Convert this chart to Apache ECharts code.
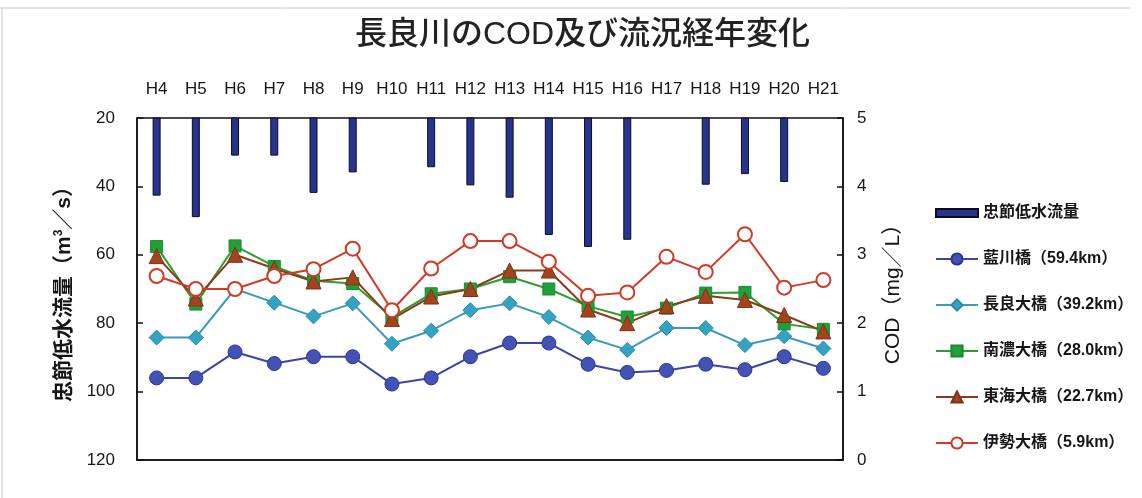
<!DOCTYPE html>
<html>
<head>
<meta charset="utf-8">
<script src="https://cdn.jsdelivr.net/npm/echarts@6/dist/echarts.min.js"></script>
<style>
  html, body { margin: 0; padding: 0; background: #fff; }
  #chart { width: 1142px; height: 498px; }
</style>
</head>
<body>
<div id="chart"></div>
<script>
// 年度（平成）
const years = ['H4','H5','H6','H7','H8','H9','H10','H11','H12','H13','H14','H15','H16','H17','H18','H19','H20','H21'];

// 忠節低水流量 (m3/s) — 欠測年は null
const flowChusetsu = [42.7, 49.0, 31.0, 31.0, 41.9, 35.9, null, 34.4, 39.7, 43.3, 54.2, 57.7, 55.6, null, 39.5, 36.4, 38.7, null];

// COD (mg/L) 各地点
const codAikawa   = [1.20, 1.20, 1.58, 1.41, 1.51, 1.51, 1.11, 1.20, 1.51, 1.71, 1.71, 1.40, 1.28, 1.31, 1.40, 1.32, 1.51, 1.34];
const codNagara   = [1.79, 1.79, 2.50, 2.30, 2.10, 2.29, 1.70, 1.89, 2.19, 2.29, 2.09, 1.79, 1.61, 1.93, 1.93, 1.68, 1.81, 1.63];
const codNanno    = [3.12, 2.28, 3.13, 2.83, 2.62, 2.58, 2.09, 2.43, 2.50, 2.68, 2.50, 2.25, 2.09, 2.22, 2.44, 2.45, 1.99, 1.91];
const codTokai    = [2.98, 2.36, 3.00, 2.80, 2.61, 2.67, 2.06, 2.39, 2.50, 2.77, 2.77, 2.20, 2.00, 2.25, 2.40, 2.34, 2.12, 1.88];
const codIse      = [2.69, 2.50, 2.50, 2.69, 2.79, 3.09, 2.19, 2.80, 3.20, 3.20, 2.90, 2.40, 2.45, 2.97, 2.75, 3.30, 2.52, 2.63];

// 左軸・右軸の目盛
const flowTicks = { min: 20, max: 120, step: 20 };
const codTicks  = { min: 0, max: 5, step: 1 };

const FONT = '"Liberation Sans", "Noto Sans CJK JP", sans-serif';
const INK = '#161616';

const chart = echarts.init(document.getElementById('chart'), null, { renderer: 'canvas' });

function lineSeries(name, data, color, symbol, size, fill, borderColor) {
  return {
    name: name,
    type: 'line',
    yAxisIndex: 1,
    data: data,
    symbol: symbol,
    symbolSize: size,
    z: 3,
    lineStyle: { color: color, width: 2 },
    itemStyle: { color: fill, borderColor: borderColor, borderWidth: fill === '#ffffff' ? 2 : 1 }
  };
}

const option = {
  backgroundColor: '#ffffff',
  animation: false,
  textStyle: { fontFamily: FONT },
  title: {
    text: '長良川のCOD及び流況経年変化',
    left: 355,
    top: 19,
    padding: 0,
    textStyle: { fontFamily: FONT, fontSize: 32, fontWeight: 500, color: '#222222' }
  },
  graphic: [
    { type: 'line', shape: { x1: 0, y1: 8, x2: 1130, y2: 8 }, style: { stroke: '#c8c8c8', lineWidth: 1 } },
    { type: 'line', shape: { x1: 2, y1: 8, x2: 2, y2: 498 }, style: { stroke: '#c8c8c8', lineWidth: 1 } }
  ],
  legend: {
    orient: 'vertical',
    left: 935,
    top: 205,
    padding: 0,
    itemWidth: 42,
    itemHeight: 14,
    itemGap: 30,
    textStyle: { fontFamily: FONT, fontSize: 16, fontWeight: 'bold', color: INK },
    data: [
      { name: '忠節低水流量', icon: 'path://M0,0L42,0L42,8L0,8Z' },
      '藍川橋（59.4km）',
      '長良大橋（39.2km）',
      '南濃大橋（28.0km）',
      '東海大橋（22.7km）',
      '伊勢大橋（5.9km）'
    ]
  },
  grid: {
    left: 137, right: 299, top: 118, bottom: 38,
    show: true, borderColor: '#111', borderWidth: 1.5, backgroundColor: 'transparent'
  },
  xAxis: {
    type: 'category',
    position: 'top',
    data: years,
    boundaryGap: true,
    axisLine: { show: true, lineStyle: { color: '#111', width: 1.5 } },
    axisTick: { show: false },
    axisLabel: { margin: 20, fontSize: 17, color: INK, fontFamily: FONT, interval: 0 }
  },
  yAxis: [
    {
      type: 'value',
      position: 'left',
      inverse: true,
      min: flowTicks.min, max: flowTicks.max, interval: flowTicks.step,
      splitLine: { show: false },
      axisLine: { show: true, lineStyle: { color: '#111', width: 1.5 } },
      axisTick: { show: true, inside: true, length: 6, lineStyle: { color: '#111', width: 1.5 } },
      axisLabel: { margin: 22, fontSize: 17, color: INK, fontFamily: FONT },
      name: '忠節低水流量（m{sup|3}／s）',
      nameLocation: 'middle',
      nameRotate: 90,
      nameGap: 62,
      nameTextStyle: {
        fontSize: 21, fontWeight: 'bold', color: INK, fontFamily: FONT,
        rich: { sup: { fontSize: 12, verticalAlign: 'top', padding: [0, 0, 10, 0], color: INK, fontFamily: FONT } }
      }
    },
    {
      type: 'value',
      position: 'right',
      min: codTicks.min, max: codTicks.max, interval: codTicks.step,
      splitLine: { show: false },
      axisLine: { show: true, lineStyle: { color: '#111', width: 1.5 } },
      axisTick: { show: true, inside: true, length: 6, lineStyle: { color: '#111', width: 1.5 } },
      axisLabel: { margin: 14, fontSize: 17, color: INK, fontFamily: FONT },
      name: 'COD（mg／L）',
      nameLocation: 'middle',
      nameRotate: 90,
      nameGap: 40,
      nameTextStyle: { fontSize: 21, color: INK, fontFamily: FONT }
    }
  ],
  series: [
    {
      name: '忠節低水流量',
      type: 'bar',
      yAxisIndex: 0,
      data: flowChusetsu,
      barWidth: 8,
      clip: true,
      z: 2,
      itemStyle: { color: '#28348c', borderColor: '#0b0b26', borderWidth: 1 }
    },
    lineSeries('藍川橋（59.4km）', codAikawa, '#3b46a0', 'circle', 14, '#4352b4', '#2b3590'),
    lineSeries('長良大橋（39.2km）', codNagara, '#3a9bb8', 'diamond', 15, '#34a2c2', '#2a8aa8'),
    lineSeries('南濃大橋（28.0km）', codNanno, '#2e9e30', 'rect', 12, '#20a03a', '#1a8a2e'),
    lineSeries('東海大橋（22.7km）', codTokai, '#8c3a1c', 'triangle', 15, '#a3441f', '#7c3214'),
    lineSeries('伊勢大橋（5.9km）', codIse, '#d13a26', 'circle', 14, '#ffffff', '#d13a26')
  ]
};

chart.setOption(option);
</script>
</body>
</html>
